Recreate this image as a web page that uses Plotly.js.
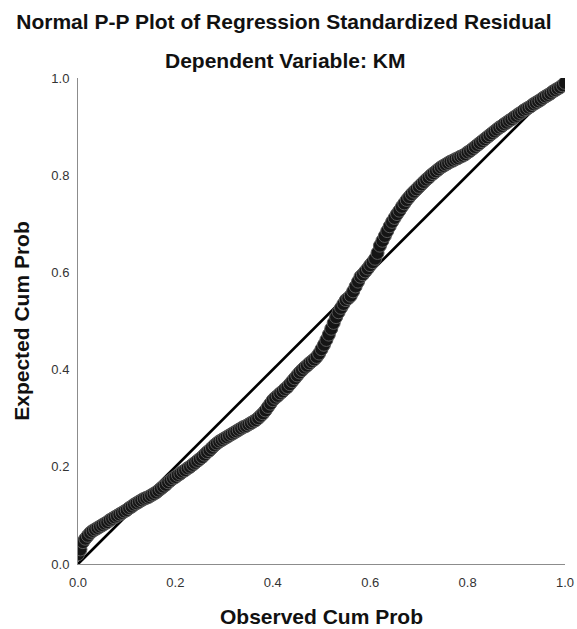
<!DOCTYPE html>
<html>
<head>
<meta charset="utf-8">
<script src="https://cdn.plot.ly/plotly-3.0.1.min.js"></script>
<style>html,body{margin:0;padding:0;background:#fff;}#chart{width:577px;height:629px;}</style>
</head>
<body>
<div id="chart"></div>
<script>
// Observed cumulative probability (x) and expected cumulative probability (y)
const observedCumProb = [
  0.000,0.005,0.010,0.015,0.020,0.025,0.030,0.035,0.040,0.045,
  0.050,0.055,0.060,0.065,0.070,0.075,0.080,0.085,0.090,0.095,
  0.100,0.105,0.110,0.115,0.120,0.125,0.130,0.135,0.140,0.145,
  0.150,0.155,0.160,0.165,0.170,0.175,0.180,0.185,0.190,0.195,
  0.200,0.205,0.210,0.215,0.220,0.225,0.230,0.235,0.240,0.245,
  0.250,0.255,0.260,0.265,0.270,0.275,0.280,0.285,0.290,0.295,
  0.300,0.305,0.310,0.315,0.320,0.325,0.330,0.335,0.340,0.345,
  0.350,0.355,0.360,0.365,0.370,0.375,0.380,0.385,0.390,0.395,
  0.400,0.405,0.410,0.415,0.420,0.425,0.430,0.435,0.440,0.445,
  0.450,0.455,0.460,0.465,0.470,0.475,0.480,0.485,0.490,0.495,
  0.500,0.505,0.510,0.515,0.520,0.525,0.530,0.535,0.540,0.545,
  0.550,0.555,0.560,0.565,0.570,0.575,0.580,0.585,0.590,0.595,
  0.600,0.605,0.610,0.615,0.620,0.625,0.630,0.635,0.640,0.645,
  0.650,0.655,0.660,0.665,0.670,0.675,0.680,0.685,0.690,0.695,
  0.700,0.705,0.710,0.715,0.720,0.725,0.730,0.735,0.740,0.745,
  0.750,0.755,0.760,0.765,0.770,0.775,0.780,0.785,0.790,0.795,
  0.800,0.805,0.810,0.815,0.820,0.825,0.830,0.835,0.840,0.845,
  0.850,0.855,0.860,0.865,0.870,0.875,0.880,0.885,0.890,0.895,
  0.900,0.905,0.910,0.915,0.920,0.925,0.930,0.935,0.940,0.945,
  0.950,0.955,0.960,0.965,0.970,0.975,0.980,0.985,0.990,0.995,
  1.000
];
const expectedCumProb = [
  0.020,0.030,0.045,0.052,0.058,0.064,0.068,0.071,0.074,0.077,
  0.080,0.083,0.086,0.090,0.093,0.096,0.099,0.102,0.105,0.108,
  0.111,0.115,0.118,0.122,0.125,0.128,0.131,0.134,0.136,0.138,
  0.141,0.144,0.147,0.151,0.155,0.159,0.163,0.168,0.172,0.176,
  0.179,0.183,0.186,0.190,0.193,0.197,0.200,0.204,0.208,0.212,
  0.216,0.220,0.225,0.230,0.234,0.239,0.244,0.248,0.252,0.255,
  0.258,0.261,0.264,0.267,0.270,0.273,0.276,0.279,0.282,0.284,
  0.287,0.290,0.293,0.296,0.300,0.305,0.310,0.316,0.323,0.330,
  0.337,0.342,0.346,0.351,0.355,0.360,0.364,0.370,0.376,0.382,
  0.388,0.394,0.399,0.404,0.408,0.413,0.417,0.421,0.426,0.433,
  0.442,0.451,0.461,0.472,0.484,0.496,0.508,0.518,0.527,0.535,
  0.543,0.547,0.552,0.561,0.571,0.581,0.591,0.596,0.602,0.608,
  0.615,0.621,0.628,0.640,0.655,0.665,0.675,0.685,0.695,0.704,
  0.712,0.720,0.727,0.735,0.742,0.749,0.755,0.761,0.766,0.771,
  0.776,0.781,0.786,0.791,0.795,0.800,0.804,0.808,0.812,0.816,
  0.819,0.822,0.825,0.828,0.830,0.833,0.835,0.838,0.840,0.843,
  0.847,0.850,0.854,0.858,0.862,0.866,0.870,0.874,0.878,0.882,
  0.886,0.890,0.894,0.898,0.901,0.905,0.908,0.912,0.915,0.919,
  0.922,0.926,0.929,0.933,0.936,0.939,0.942,0.946,0.949,0.952,
  0.955,0.959,0.962,0.965,0.968,0.972,0.975,0.978,0.981,0.985,
  0.990
];
const refLineX = [0, 1];
const refLineY = [0, 1];
const tickVals = [0, 0.2, 0.4, 0.6, 0.8, 1.0];
const tickText = ['0.0', '0.2', '0.4', '0.6', '0.8', '1.0'];

const font = 'Liberation Sans, Arial, sans-serif';

const traces = [
  {
    x: refLineX, y: refLineY, type: 'scatter', mode: 'lines',
    line: {color: '#000', width: 2.7}, hoverinfo: 'skip', showlegend: false
  },
  {
    x: observedCumProb, y: expectedCumProb, type: 'scatter', mode: 'markers',
    marker: {symbol: 'circle', size: 13, color: '#151515', line: {color: '#5a5a5a', width: 1}},
    showlegend: false
  }
];

const axisCommon = {
  range: [0, 1], autorange: false, showgrid: false, zeroline: false,
  showline: true, linecolor: '#8c8c8c', linewidth: 1,
  tickvals: tickVals, ticktext: tickText,
  ticks: 'outside', tickcolor: 'rgba(0,0,0,0)',
  tickfont: {family: font, size: 13, color: '#333'}
};

const layout = {
  width: 577, height: 629,
  margin: {l: 78, r: 12, t: 78, b: 65},
  paper_bgcolor: '#fff', plot_bgcolor: '#fff',
  title: {
    text: '<b>Normal P-P Plot of Regression Standardized Residual</b>',
    font: {family: font, size: 21, color: '#111'},
    xref: 'container', x: 0.492, xanchor: 'center',
    yref: 'container', y: 1 - 22 / 629, yanchor: 'middle'
  },
  annotations: [{
    text: '<b>Dependent Variable: KM</b>',
    font: {family: font, size: 21, color: '#111'},
    xref: 'paper', x: (285 - 78) / 487, xanchor: 'center',
    yref: 'paper', y: (564 - 60) / 486, yanchor: 'middle',
    showarrow: false
  }],
  xaxis: Object.assign({}, axisCommon, {
    ticklen: 6,
    title: {text: '<b>Observed Cum Prob</b>', font: {family: font, size: 21, color: '#111'}, standoff: 20}
  }),
  yaxis: Object.assign({}, axisCommon, {
    ticklen: 5,
    title: {text: '<b>Expected Cum Prob</b>', font: {family: font, size: 21, color: '#111'}, standoff: 15}
  })
};

Plotly.newPlot('chart', traces, layout, {displayModeBar: false, staticPlot: true});
</script>
</body>
</html>
